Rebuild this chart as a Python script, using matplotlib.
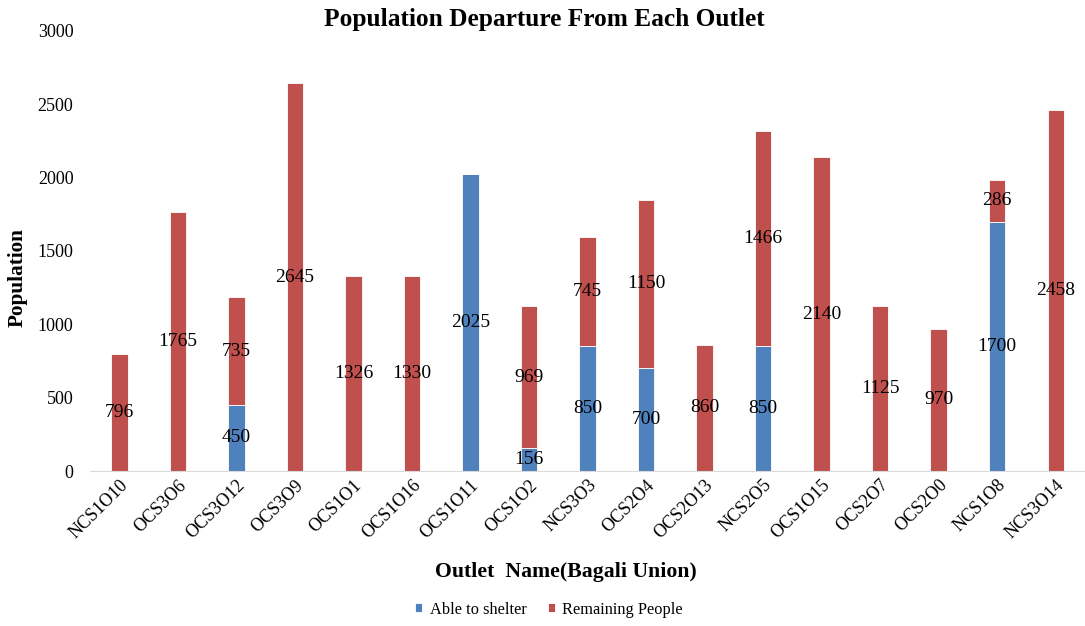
import numpy as np
import matplotlib
matplotlib.use("Agg")
import matplotlib.pyplot as plt

plt.rcParams['font.family'] = ['Liberation Serif', 'DejaVu Serif']

outlets = ['NCS1O10', 'OCS3O6', 'OCS3O12', 'OCS3O9', 'OCS1O1', 'OCS1O16',
           'OCS1O11', 'OCS1O2', 'NCS3O3', 'OCS2O4', 'OCS2O13', 'NCS2O5',
           'OCS1O15', 'OCS2O7', 'OCS2O0', 'NCS1O8', 'NCS3O14']
shelter = [0, 0, 450, 0, 0, 0, 2025, 156, 850, 700, 0, 850, 0, 0, 0, 1700, 0]
remaining = [796, 1765, 735, 2645, 1326, 1330, 0, 969, 745, 1150, 860, 1466,
             2140, 1125, 970, 286, 2458]

blue = '#4F81BD'
red = '#C0504D'

fig = plt.figure(figsize=(10.85, 6.26), dpi=100)
ax = fig.add_axes([0.083, 0.2476, 0.917, 0.703])

x = np.arange(len(outlets))
w = 0.28
b1 = ax.bar(x, shelter, w, color=blue, edgecolor='white', linewidth=0.6,
            label='Able to shelter')
b2 = ax.bar(x, remaining, w, bottom=shelter, color=red, edgecolor='white',
            linewidth=0.6, label='Remaining People')

for i in range(len(outlets)):
    if shelter[i] > 0:
        ax.text(x[i], shelter[i] / 2, str(shelter[i]), ha='center',
                va='center', fontsize=14)
    if remaining[i] > 0:
        ax.text(x[i], shelter[i] + remaining[i] / 2, str(remaining[i]),
                ha='center', va='center', fontsize=14)

ax.set_xlim(-0.5, len(outlets) - 0.5)
ax.set_ylim(0, 3000)
ax.set_yticks(np.arange(0, 3001, 500))
ax.tick_params(axis='y', length=0, labelsize=13, pad=12)
ax.tick_params(axis='x', length=0, labelsize=13, pad=4)
ax.set_xticks(x)
ax.set_xticklabels(outlets, rotation=45, ha='right', rotation_mode='anchor')

for s in ['top', 'right', 'left']:
    ax.spines[s].set_visible(False)
ax.spines['bottom'].set_color('#d9d9d9')

ax.set_title('Population Departure From Each Outlet', fontsize=18.3,
             fontweight='bold', pad=3, x=0.457)
ax.set_ylabel('Population', fontsize=15.3, fontweight='bold')
ax.yaxis.set_label_coords(-0.063, 0.44)
ax.set_xlabel('Outlet  Name(Bagali Union)', fontsize=15.7, fontweight='bold')
ax.xaxis.set_label_coords(0.478, -0.207)

fig.legend(handles=[b1, b2], loc='center', bbox_to_anchor=(0.506, 0.026),
           ncol=2, frameon=False, fontsize=11.8, handlelength=0.45,
           handleheight=0.45, handletextpad=0.45, columnspacing=1.3)

fig.savefig('out.png', dpi=100)
